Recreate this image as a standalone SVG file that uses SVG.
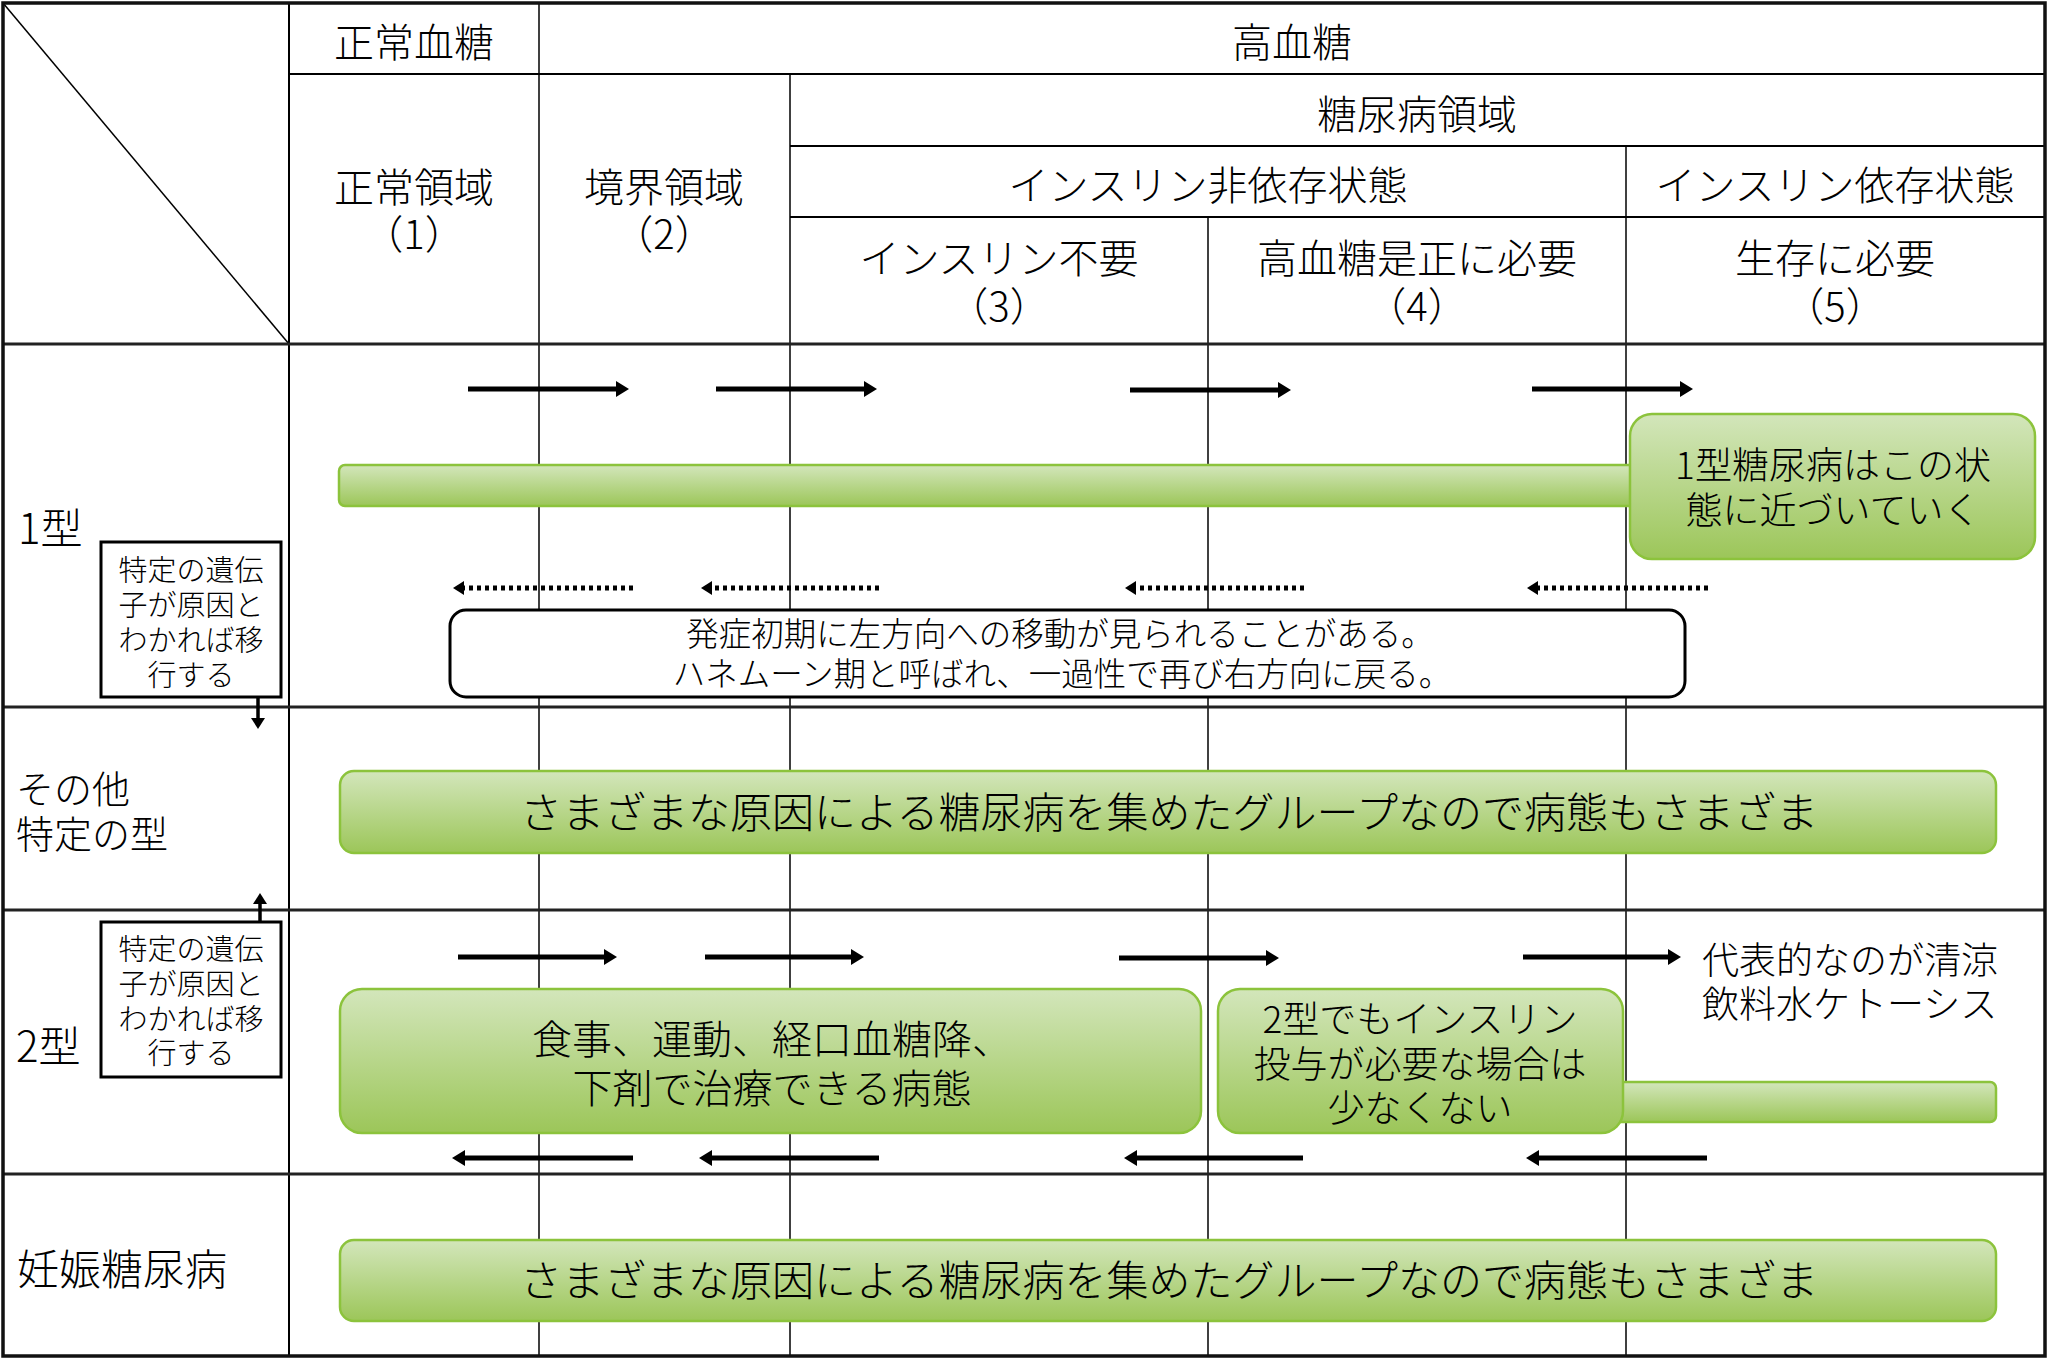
<svg xmlns="http://www.w3.org/2000/svg" width="2048" height="1360" viewBox="0 0 2048 1360">
<defs>
<linearGradient id="gg" x1="0" y1="0" x2="0" y2="1">
<stop offset="0" stop-color="#d3e6bb"/>
<stop offset="1" stop-color="#9cc659"/>
</linearGradient>
<marker id="ah" markerUnits="userSpaceOnUse" markerWidth="16" markerHeight="18" refX="2" refY="8" orient="auto">
<path d="M0,0 L13,8 L0,16 z" fill="#000"/>
</marker>
<marker id="ahd" markerUnits="userSpaceOnUse" markerWidth="14" markerHeight="16" refX="2" refY="7" orient="auto">
<path d="M0,0 L11,7 L0,14 z" fill="#000"/>
</marker>
</defs>
<style>
text{font-family:"Noto Sans CJK JP","Noto Sans CJK SC",sans-serif;fill:#000;font-weight:300}
.h{font-size:40px;text-anchor:middle}
.lbl{font-size:38px}
.lbl2{font-size:42px}
.sm{font-size:29px;text-anchor:middle}
.grid{stroke:#000;stroke-width:2;fill:none}
.row{stroke:#222;stroke-width:3;fill:none}
.thin{stroke:#000;stroke-width:1.5;fill:none}
.bar{fill:url(#gg);stroke:#8cc33c;stroke-width:2.5}
.box{fill:#fff;stroke:#000;stroke-width:3}
.arr{stroke:#000;stroke-width:5;fill:none;marker-end:url(#ah)}
.dot{stroke:#000;stroke-width:5;fill:none;stroke-dasharray:4 4;marker-end:url(#ahd)}
.link{stroke:#000;stroke-width:3.5;fill:none;marker-end:url(#ahd)}
.bt{font-size:42px;text-anchor:middle}
</style>
<rect width="2048" height="1360" fill="#fff"/>

<g id="grid">
<line class="thin" x1="3" y1="3" x2="289" y2="344"/>
<line class="grid" x1="289" y1="74" x2="2045" y2="74"/>
<line class="grid" x1="790" y1="146" x2="2045" y2="146"/>
<line class="grid" x1="790" y1="217" x2="2045" y2="217"/>
<line class="grid" x1="289" y1="3" x2="289" y2="1356"/>
<line class="thin" x1="539" y1="3" x2="539" y2="1356"/>
<line class="thin" x1="790" y1="74" x2="790" y2="1356"/>
<line class="thin" x1="1208" y1="217" x2="1208" y2="1356"/>
<line class="thin" x1="1626" y1="146" x2="1626" y2="1356"/>
<line class="row" x1="3" y1="344" x2="2045" y2="344"/>
<line class="row" x1="3" y1="707" x2="2045" y2="707"/>
<line class="row" x1="3" y1="910" x2="2045" y2="910"/>
<line class="row" x1="3" y1="1174" x2="2045" y2="1174"/>
<rect x="3" y="3" width="2042" height="1353" fill="none" stroke="#111" stroke-width="3.5"/>
</g>

<g id="header">
<text class="h" x="414" y="57">正常血糖</text>
<text class="h" x="1292" y="57">高血糖</text>
<text class="h" x="1417" y="129">糖尿病領域</text>
<text class="h" x="1208" y="200">インスリン非依存状態</text>
<text class="h" x="1835" y="200">インスリン依存状態</text>
<text class="h" x="414" y="202">正常領域</text>
<text class="h" x="414" y="249">（1）</text>
<text class="h" x="664" y="202">境界領域</text>
<text class="h" x="664" y="249">（2）</text>
<text class="h" x="999" y="273">インスリン不要</text>
<text class="h" x="999" y="321">（3）</text>
<text class="h" x="1417" y="273">高血糖是正に必要</text>
<text class="h" x="1417" y="321">（4）</text>
<text class="h" x="1835" y="273">生存に必要</text>
<text class="h" x="1835" y="321">（5）</text>
</g>

<g id="row-labels">
<text class="lbl2" x="18" y="544">1型</text>
<text class="lbl" x="16" y="803">その他</text>
<text class="lbl" x="16" y="848">特定の型</text>
<text class="lbl2" x="16" y="1062">2型</text>
<text class="lbl2" x="17" y="1285">妊娠糖尿病</text>
</g>

<g id="connectors">
<line class="arr" x1="468" y1="389" x2="618" y2="389"/>
<line class="arr" x1="716" y1="389" x2="866" y2="389"/>
<line class="arr" x1="1130" y1="390" x2="1280" y2="390"/>
<line class="arr" x1="1532" y1="389" x2="1682" y2="389"/>
<line class="dot" x1="633" y1="588" x2="462" y2="588"/>
<line class="dot" x1="879" y1="588" x2="710" y2="588"/>
<line class="dot" x1="1304" y1="588" x2="1134" y2="588"/>
<line class="dot" x1="1708" y1="588" x2="1536" y2="588"/>
<line class="arr" x1="458" y1="957" x2="606" y2="957"/>
<line class="arr" x1="705" y1="957" x2="853" y2="957"/>
<line class="arr" x1="1119" y1="958" x2="1268" y2="958"/>
<line class="arr" x1="1523" y1="957" x2="1670" y2="957"/>
<line class="arr" x1="633" y1="1158" x2="463" y2="1158"/>
<line class="arr" x1="879" y1="1158" x2="710" y2="1158"/>
<line class="arr" x1="1303" y1="1158" x2="1135" y2="1158"/>
<line class="arr" x1="1707" y1="1158" x2="1537" y2="1158"/>
<line class="link" x1="258" y1="697" x2="258" y2="720"/>
<line class="link" x1="260" y1="922" x2="260" y2="902"/>
</g>

<g id="type1-bar">
<rect class="bar" x="339" y="465" width="1310" height="41" rx="6"/>
</g>
<g id="type1-callout">
<rect class="bar" x="1630" y="414" width="405" height="145" rx="22"/>
<text font-size="37" text-anchor="middle" x="1833" y="479">1型糖尿病はこの状</text>
<text font-size="37" text-anchor="middle" x="1833" y="524">態に近づいていく</text>
</g>
<g id="type1-note">
<rect class="box" x="450" y="610" width="1235" height="87" rx="16"/>
<text font-size="32.5" text-anchor="middle" x="1060" y="646">発症初期に左方向への移動が見られることがある。</text>
<text font-size="32.5" text-anchor="middle" x="1062" y="686">ハネムーン期と呼ばれ、一過性で再び右方向に戻る。</text>
</g>
<g id="gene-box-1">
<rect class="box" x="101" y="542" width="180" height="155"/>
<text class="sm" x="191" y="581">特定の遺伝</text>
<text class="sm" x="191" y="616">子が原因と</text>
<text class="sm" x="191" y="651">わかれば移</text>
<text class="sm" x="191" y="686">行する</text>
</g>
<g id="gene-box-2">
<rect class="box" x="101" y="922" width="180" height="155"/>
<text class="sm" x="191" y="960">特定の遺伝</text>
<text class="sm" x="191" y="995">子が原因と</text>
<text class="sm" x="191" y="1030">わかれば移</text>
<text class="sm" x="191" y="1064">行する</text>
</g>
<g id="other-bar">
<rect class="bar" x="340" y="771" width="1656" height="82" rx="14"/>
<text class="bt" x="1169" y="828">さまざまな原因による糖尿病を集めたグループなので病態もさまざま</text>
</g>
<g id="type2-thin-bar">
<rect class="bar" x="1600" y="1082" width="396" height="40" rx="6"/>
</g>
<g id="type2-main">
<rect class="bar" x="340" y="989" width="861" height="144" rx="22"/>
<text font-size="40" text-anchor="middle" x="772" y="1054">食事、運動、経口血糖降、</text>
<text font-size="40" text-anchor="middle" x="772" y="1103">下剤で治療できる病態</text>
</g>
<g id="type2-insulin">
<rect class="bar" x="1218" y="989" width="405" height="144" rx="22"/>
<text font-size="37" text-anchor="middle" x="1420" y="1033">2型でもインスリン</text>
<text font-size="37" text-anchor="middle" x="1420" y="1078">投与が必要な場合は</text>
<text font-size="37" text-anchor="middle" x="1420" y="1122">少なくない</text>
</g>
<g id="type2-note">
<text font-size="37" x="1702" y="974">代表的なのが清涼</text>
<text font-size="37" x="1702" y="1018">飲料水ケトーシス</text>
</g>
<g id="gestational-bar">
<rect class="bar" x="340" y="1240" width="1656" height="81" rx="14"/>
<text class="bt" x="1169" y="1296">さまざまな原因による糖尿病を集めたグループなので病態もさまざま</text>
</g>
</svg>
